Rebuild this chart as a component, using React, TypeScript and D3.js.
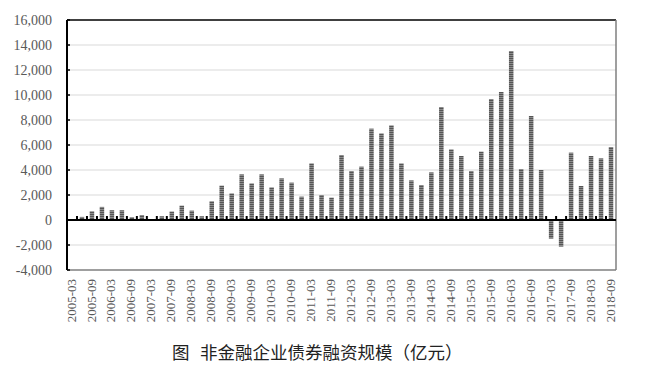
import * as d3 from "d3";

// quarterly categories, 2005-03 .. 2018-09
const quarters = [
  "2005-03", "2005-06", "2005-09", "2005-12",
  "2006-03", "2006-06", "2006-09", "2006-12",
  "2007-03", "2007-06", "2007-09", "2007-12",
  "2008-03", "2008-06", "2008-09", "2008-12",
  "2009-03", "2009-06", "2009-09", "2009-12",
  "2010-03", "2010-06", "2010-09", "2010-12",
  "2011-03", "2011-06", "2011-09", "2011-12",
  "2012-03", "2012-06", "2012-09", "2012-12",
  "2013-03", "2013-06", "2013-09", "2013-12",
  "2014-03", "2014-06", "2014-09", "2014-12",
  "2015-03", "2015-06", "2015-09", "2015-12",
  "2016-03", "2016-06", "2016-09", "2016-12",
  "2017-03", "2017-06", "2017-09", "2017-12",
  "2018-03", "2018-06", "2018-09",
];

// 非金融企业债券融资（亿元）
const bondFinancing = [
  0, 250, 700, 1050,
  780, 780, 230, 400,
  0, 300, 680, 1150,
  750, 300, 1500, 2750,
  2130, 3650, 2930, 3650,
  2610, 3330, 2990, 1870,
  4530, 2000, 1790, 5200,
  3920, 4270, 7310, 6930,
  7570, 4530, 3170, 2800,
  3810, 9040, 5650, 5120,
  3920, 5470, 9680, 10240,
  13520, 4080, 8320, 4000,
  -1490, -2130, 5390, 2720,
  5120, 4930, 5840,
];

const yTicks = [-4000, -2000, 0, 2000, 4000, 6000, 8000, 10000, 12000, 14000, 16000];

const title = "非金融企业债券融资规模（亿元）";

const fmt = d3
  .formatLocale({ decimal: ".", thousands: ",", grouping: [3], currency: ["", ""], minus: "-" })
  .format(",");

export default function App() {
  const width = 658;
  const height = 374;
  const plot = { left: 67, right: 616, top: 20, bottom: 270 };

  const x = d3
    .scaleBand<string>()
    .domain(quarters)
    .range([plot.left, plot.right])
    .paddingInner(0)
    .paddingOuter(0);

  const y = d3.scaleLinear().domain([-4000, 16000]).range([plot.bottom, plot.top]);

  const step = x.step();
  const barW = 4.5;
  const serif = "'Liberation Serif', 'Times New Roman', serif";

  return (
    <svg
      width={width}
      height={height}
      style={{ position: "absolute", left: 0, top: 0, background: "#fff" }}
    >
      <defs>
        <pattern id="hatch" width={4} height={2} patternUnits="userSpaceOnUse">
          <rect width={4} height={2} fill="#8c8c8c" />
          <rect width={4} height={1} fill="#555" />
        </pattern>
      </defs>

      {/* gridlines */}
      {yTicks
        .filter((t) => t !== 0 && t !== 16000 && t !== -4000)
        .map((t) => (
          <line
            key={`g${t}`}
            x1={plot.left}
            x2={plot.right}
            y1={y(t)}
            y2={y(t)}
            stroke="#d9d9d9"
            strokeWidth={1}
          />
        ))}

      {/* bars */}
      {quarters.map((q, i) => {
        const v = bondFinancing[i];
        if (!v) return null;
        const cx = (x(q) ?? 0) + step / 2;
        return (
          <rect
            key={q}
            x={cx - barW / 2}
            width={barW}
            y={y(Math.max(0, v))}
            height={Math.abs(y(v) - y(0))}
            fill="url(#hatch)"
          />
        );
      })}

      {/* frame */}
      <line x1={plot.left} x2={plot.right} y1={plot.top} y2={plot.top} stroke="#000" strokeWidth={1.5} />
      <line x1={plot.right} x2={plot.right} y1={plot.top} y2={plot.bottom} stroke="#7f7f7f" strokeWidth={1.5} />
      <line x1={plot.left} x2={plot.right} y1={plot.bottom} y2={plot.bottom} stroke="#7f7f7f" strokeWidth={1.5} />
      <line x1={plot.left} x2={plot.left} y1={plot.top} y2={plot.bottom} stroke="#000" strokeWidth={2} />

      {/* y ticks + labels */}
      {yTicks.map((t) => (
        <g key={`y${t}`}>
          <line x1={plot.left} x2={plot.left + 3} y1={y(t)} y2={y(t)} stroke="#000" strokeWidth={1.5} />
          <text
            x={52}
            y={y(t)}
            dy="0.35em"
            textAnchor="end"
            fontFamily={serif}
            fontSize={14}
            fill="#595959"
          >
            {fmt(t)}
          </text>
        </g>
      ))}

      {/* zero axis with category ticks */}
      <line x1={plot.left} x2={plot.right} y1={y(0)} y2={y(0)} stroke="#000" strokeWidth={2} />
      {quarters.slice(1).map((q) => (
        <line
          key={`t${q}`}
          x1={x(q) ?? 0}
          x2={x(q) ?? 0}
          y1={y(0)}
          y2={y(0) - 4}
          stroke="#000"
          strokeWidth={2}
        />
      ))}

      {/* x labels */}
      {quarters.map((q, i) =>
        i % 2 === 0 ? (
          <text
            key={`x${q}`}
            transform={`translate(${(x(q) ?? 0) + step / 2 - 1},${plot.bottom + 9}) rotate(-90)`}
            dy="0.35em"
            textAnchor="end"
            fontFamily={serif}
            fontSize={13}
            fill="#595959"
          >
            {q}
          </text>
        ) : null
      )}

      {/* caption */}
      <text x={172} y={353} dy="0.35em" fontFamily="'Noto Sans CJK SC', sans-serif" fontSize={17.5} fill="#222">
        图
      </text>
      <text x={200} y={353} dy="0.35em" fontFamily="'Noto Sans CJK SC', sans-serif" fontSize={17.5} fill="#222">
        {title}
      </text>
    </svg>
  );
}
